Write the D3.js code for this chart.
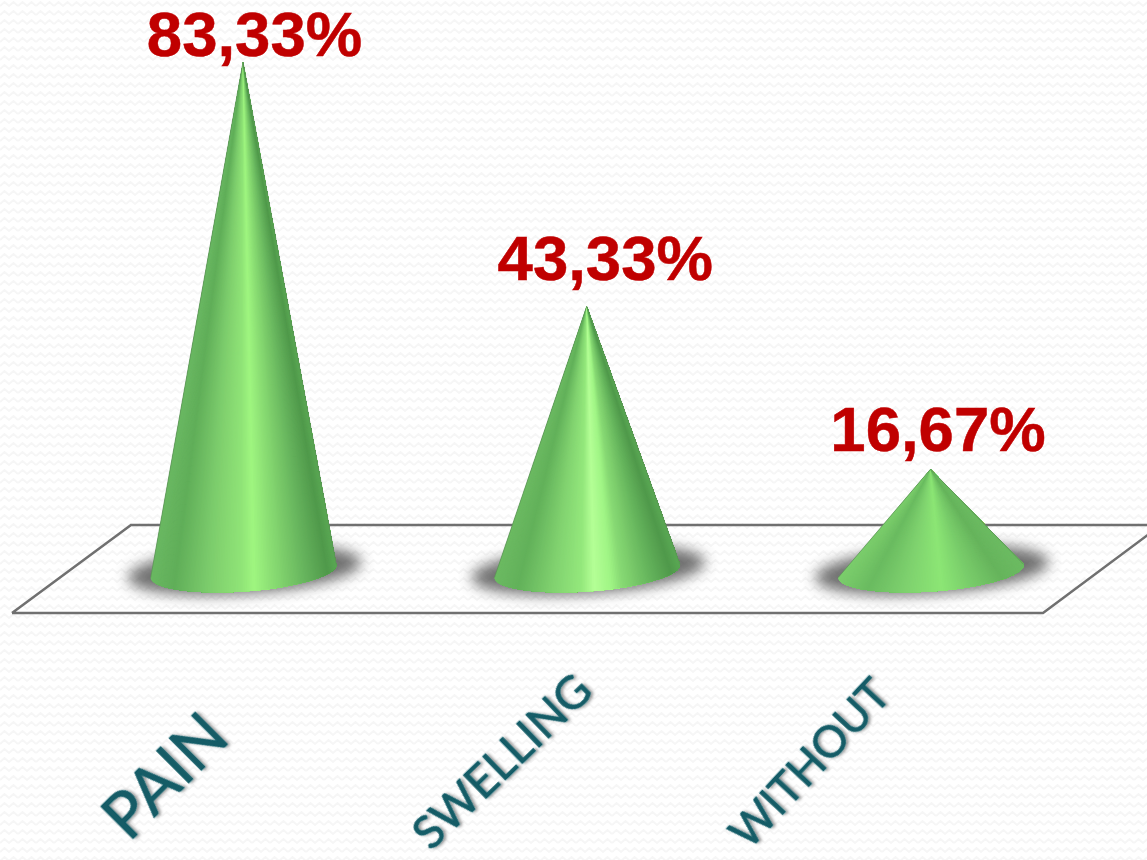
<!DOCTYPE html>
<html>
<head>
<meta charset="utf-8">
<style>
html,body{margin:0;padding:0;background:#fff;overflow:hidden}
svg{display:block}
</style>
<script src="https://cdn.jsdelivr.net/npm/d3@7/dist/d3.min.js"></script>
</head>
<body>
<div id="chart"></div>
<script>
const categories = ["PAIN", "SWELLING", "WITHOUT"];
const values = [83.33, 43.33, 16.67];
const valueLabels = ["83,33%", "43,33%", "16,67%"];

const W = 1147, H = 860;
const svg = d3.select("#chart").append("svg").attr("width", W).attr("height", H);
const defs = svg.append("defs");

// background zig-zag texture
const pat = defs.append("pattern").attr("id","bgp").attr("patternUnits","userSpaceOnUse")
  .attr("width",18).attr("height",9);
pat.append("path").attr("d","M0 6 L4.5 2 L9 6 L13.5 2 L18 6")
  .attr("fill","none").attr("stroke","#f6f6f6").attr("stroke-width",2);
svg.append("rect").attr("width",W).attr("height",H).attr("fill","url(#bgp)");

// scales
const x = d3.scalePoint().domain(categories).range([243.5, 931]);
const y = d3.scaleLinear().domain([0, 83.33]).range([571, 62]);

// floor
const floor = d3.line()([[12,613],[1043,613],[1161,525],[131,525],[12,613]]);
svg.append("path").attr("d",floor).attr("fill","none")
   .attr("stroke","#707070").attr("stroke-width",2.5);

// filters
const blur = defs.append("filter").attr("id","blur").attr("x","-30%").attr("y","-80%")
   .attr("width","160%").attr("height","260%");
blur.append("feGaussianBlur").attr("stdDeviation",7);
const ts = defs.append("filter").attr("id","ts").attr("x","-10%").attr("y","-30%")
   .attr("width","120%").attr("height","160%");
ts.append("feDropShadow").attr("dx",1.8).attr("dy",1.8).attr("stdDeviation",1.5)
   .attr("flood-color","#000").attr("flood-opacity",0.42);

// shading ramps across the cone, left to right
const ramps = [
 [[0,"#6ab862"],[0.12,"#60ae59"],[0.3,"#7ccc6c"],[0.48,"#90e477"],[0.55,"#9ff680"],[0.62,"#90e477"],[0.82,"#68b65e"],[0.95,"#50994b"],[1,"#5aa854"]],
 [[0,"#6cba62"],[0.12,"#62b15a"],[0.3,"#80d16f"],[0.46,"#94e87c"],[0.53,"#b4ff96"],[0.62,"#a0f585"],[0.68,"#88da74"],[0.85,"#62b15a"],[0.95,"#50994b"],[1,"#5aa854"]],
 [[0,"#7bcd6c"],[0.15,"#6abb60"],[0.35,"#7ed16e"],[0.55,"#8ce675"],[0.7,"#7ace6b"],[0.88,"#66b45c"],[1,"#6cbb62"]]
];

const rx = 93, ry = 20.5, tilt = -4, STEPS = 160;
const a = tilt*Math.PI/180;
function basePoint(cx, cy, t){           // t from 0 (left) to PI (right) along the front rim
  const ex = -rx*Math.cos(t), ey = ry*Math.sin(t);
  return [cx + ex*Math.cos(a) - ey*Math.sin(a), cy + ex*Math.sin(a) + ey*Math.cos(a)];
}
const marks = svg.selectAll("g.cone").data(categories).join("g").attr("class","cone");

// shadows
marks.append("ellipse")
  .attr("cx",d=>x(d)+1).attr("cy",y(0)-1).attr("rx",117).attr("ry",24)
  .attr("transform",d=>`rotate(${tilt} ${x(d)} ${y(0)})`)
  .attr("fill","#4a4a4a").attr("opacity",0.78).attr("filter","url(#blur)");

// cones: overlapping facets from the apex to the rim, painted left to right
marks.each(function(d,i){
  const g = d3.select(this), cx = x(d), cy = y(0), apex = [cx-0.5, y(values[i])];
  const col = d3.scaleLinear().domain(ramps[i].map(s=>s[0])).range(ramps[i].map(s=>s[1]))
     .interpolate(d3.interpolateRgb);
  const rim = d3.range(STEPS+1).map(k=>basePoint(cx,cy,k/STEPS*Math.PI));
  g.selectAll("path.f").data(d3.range(STEPS)).join("path").attr("class","f")
    .attr("d",k=>d3.line()([apex, ...rim.slice(k)])+"Z")
    .attr("fill",k=>col((1-Math.cos((k+0.5)/STEPS*Math.PI))/2));
  g.append("path").attr("d",d3.line()([rim[0],apex,rim[STEPS]])).attr("fill","none")
    .attr("stroke","#5c8f58").attr("stroke-width",0.7);
});

// value labels
const labelDx = [11, 18, 7], labelGap = [6, 26, 18];
svg.selectAll("text.v").data(valueLabels).join("text").attr("class","v")
  .attr("x",(d,i)=>x(categories[i])+labelDx[i])
  .attr("y",(d,i)=>y(values[i])-labelGap[i])
  .attr("text-anchor","middle")
  .attr("font-family","'Liberation Sans',Arial,sans-serif")
  .attr("font-weight","bold").attr("font-size",63.5)
  .attr("fill","#c00000").attr("stroke","#c00000").attr("stroke-width",0.5).text(d=>d);

// category labels
const catPos = [[129,843,-45,64],[431,852,-44,46],[749,851,-47,44]];
svg.selectAll("text.c").data(categories).join("text").attr("class","c")
  .attr("transform",(d,i)=>`translate(${catPos[i][0]},${catPos[i][1]}) rotate(${catPos[i][2]})`)
  .attr("font-family","Lato,sans-serif").attr("font-size",(d,i)=>catPos[i][3])
  .attr("fill","#125b66").attr("stroke","#125b66").attr("stroke-width",0.6)
  .attr("filter","url(#ts)").text(d=>d);
</script>
</body>
</html>
